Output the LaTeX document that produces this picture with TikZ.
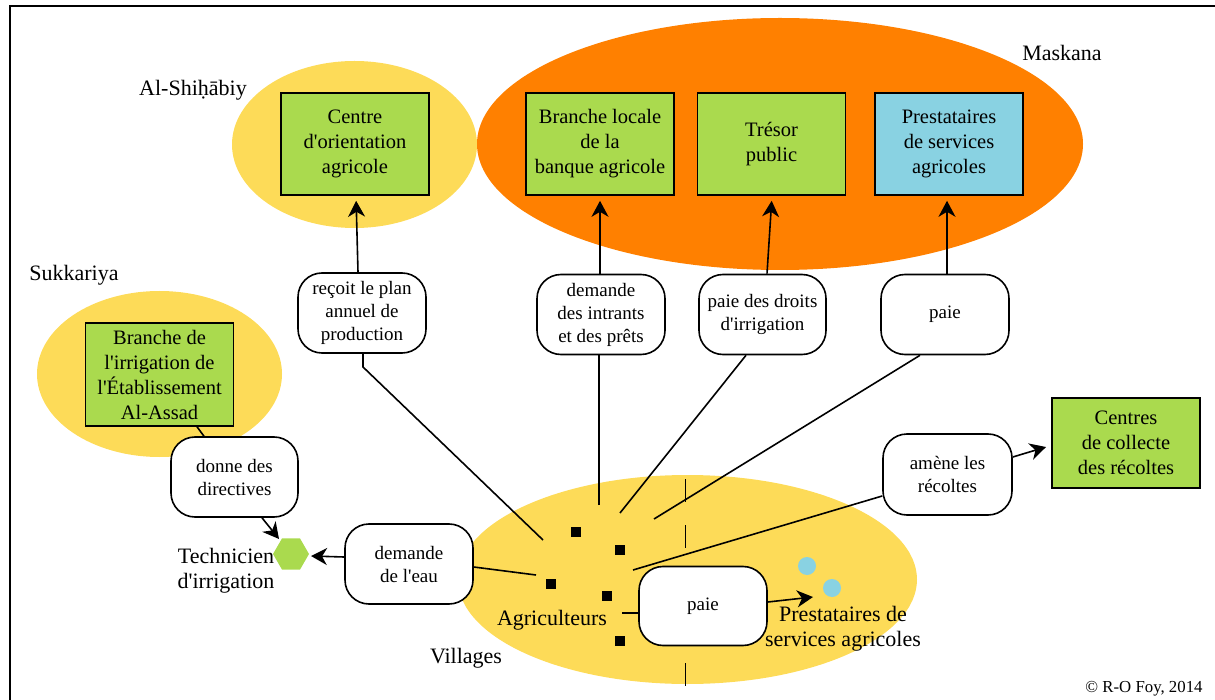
\documentclass[tikz,border=0pt]{standalone}
\usepackage{fontspec}
\setmainfont{Liberation Serif}
\usetikzlibrary{arrows.meta,shapes.geometric}
\definecolor{ylw}{RGB}{253,219,88}
\definecolor{org}{RGB}{255,128,0}
\definecolor{grn}{RGB}{170,218,78}
\definecolor{blu}{RGB}{137,210,226}
\newcommand{\boxfont}{\fontsize{20.5}{25}\selectfont}
\newcommand{\lblfont}{\fontsize{19}{23}\selectfont}
\newcommand{\locfont}{\fontsize{22}{25}\selectfont}
\newcommand{\apo}{\textquotesingle}
\tikzset{
  orgbox/.style={draw, line width=1.6pt, fill=grn, minimum width=148pt, minimum height=102pt, inner sep=0pt, align=center, font=\boxfont},
  lblbox/.style={draw, line width=1.6pt, fill=white, rounded corners=24pt, minimum width=128pt, minimum height=80pt, inner sep=0pt, align=center, font=\lblfont},
  conn/.style={line width=1.6pt},
  arr/.style={line width=1.6pt, -{Stealth[length=16pt,width=17pt,inset=5pt]}},
  loc/.style={font=\locfont, align=center, inner sep=0pt},
  sq/.style={fill=black, minimum size=10pt, inner sep=0pt},
  dot/.style={circle, fill=blu, minimum size=18pt, inner sep=0pt},
}
\begin{document}
\begin{tikzpicture}[x=1pt,y=-1pt]
\useasboundingbox (0,0) rectangle (1215,700);
% frame
\draw[line width=2pt] (9.5,700) -- (9.5,6) -- (1215,6);
% background ellipses
\fill[ylw] (354.5,144.5) ellipse [x radius=122.5pt, y radius=83.5pt];
\fill[org] (780,144) ellipse [x radius=303pt, y radius=126pt];
\fill[ylw] (159.5,374) ellipse [x radius=122.5pt, y radius=83pt];
\fill[ylw] (687.5,579.5) ellipse [x radius=229.5pt, y radius=104.5pt];
% dashed village divider
\draw[conn, dash pattern=on 23pt off 23pt] (685.5,479) -- (685.5,700);
% location labels
\node[loc] (lshi) at (193,90) {Al-Shiḥābiy};
\node[loc] (lmas) at (1062,53) {Maskana};
\node[loc] (lsuk) at (74,275) {Sukkariya};
\node[loc] (lvil) at (466,658) {Villages};
\node[loc] (lagr) at (552,620) {Agriculteurs};
% institution boxes
\node[orgbox] (coa) at (355,144) {Centre\\d\apo orientation\\agricole};
\node[orgbox] (bla) at (600,144) {Branche locale\\de la\\banque agricole};
\node[orgbox] (tre) at (771.5,144) {Trésor\\public};
\node[orgbox, fill=blu] (psa) at (949,144) {Prestataires\\de services\\agricoles};
\node[orgbox, minimum height=103pt] (bir) at (159.5,374.5) {Branche de\\l\apo irrigation de\\l\apo Établissement\\Al-Assad};
\node[orgbox, minimum height=90pt] (ccr) at (1126,443) {Centres\\de collecte\\des récoltes};
% technician
\node[regular polygon, regular polygon sides=6, fill=grn, minimum size=36pt, inner sep=0pt] (tech) at (291,554) {};
\node[loc] (ltech) at (226,571) {Technicien\\d\apo irrigation};
% farmers
\node[sq] (f1) at (576,532) {};
\node[sq] (f2) at (620,550) {};
\node[sq] (f3) at (551,584) {};
\node[sq] (f4) at (607,596) {};
\node[sq] (f5) at (620,641) {};
% service providers in village
\node[dot] (p1) at (807,566) {};
\node[dot] (p2) at (832,588) {};
\node[loc] (lpsv) at (843,629) {Prestataires de\\services agricoles};
% label boxes
\node[lblbox] (rpl) at (362,313) {reçoit le plan\\annuel de\\production};
\node[lblbox] (dip) at (601,314.5) {demande\\des intrants\\et des prêts};
\node[lblbox, minimum width=127pt] (pdi) at (762.5,314.5) {paie des droits\\d\apo irrigation};
\node[lblbox] (pa1) at (945,314.5) {paie};
\node[lblbox, minimum width=127pt] (ddi) at (234.5,477) {donne des\\directives};
\node[lblbox] (dle) at (409,564) {demande\\de l\apo eau};
\node[lblbox, minimum width=129pt, minimum height=81pt] (are) at (947.5,474.5) {amène les\\récoltes};
\node[lblbox, minimum height=79pt] (pa2) at (703,606) {paie};
% free ends of connectors (near the farmers)
\coordinate (e1) at (543,540);
\coordinate (e2) at (599,505);
\coordinate (e3) at (620,513);
\coordinate (e4) at (654,519);
\coordinate (e5) at (536,575);
\coordinate (e6) at (633,570);
\coordinate (e7) at (622,613);
% connectors
\draw[conn] (e1) -- (363,367) -- (rpl.south -| 363,0);
\draw[arr, shorten >=5pt] (rpl.north -| 358,0) -- (coa.south -| 356,0);
\draw[conn] (e2) -- (dip.south -| e2);
\draw[arr, shorten >=5pt] (dip.north -| 600,0) -- (bla.south -| 600,0);
\draw[conn] (e3) -- (pdi.south -| 746,0);
\draw[arr, shorten >=5pt] (pdi.north -| 767,0) -- (tre.south -| 772,0);
\draw[conn] (e4) -- (pa1.south -| 920,0);
\draw[arr, shorten >=5pt] (pa1.north -| 947,0) -- (psa.south -| 947,0);
\draw[conn] (bir.south -| 197,0) -- (ddi.north -| 204,0);
\draw[arr] (ddi.south -| 262,0) -- (279,539);
\draw[conn] (e5) -- (dle.east |- 0,567);
\draw[arr] (dle.west |- 0,557) -- (311,556);
\draw[conn] (e6) -- (are.west |- 0,496);
\draw[arr] (are.east |- 0,457) -- (1046,447);
\draw[conn] (e7) -- (pa2.west |- 0,613);
\draw[arr] (pa2.east |- 0,602) -- (813,597);
% copyright
\node[font=\fontsize{16.8}{20}\selectfont, inner sep=0pt] (copy) at (1144,689) {© R-O Foy, 2014};
\end{tikzpicture}
\end{document}
